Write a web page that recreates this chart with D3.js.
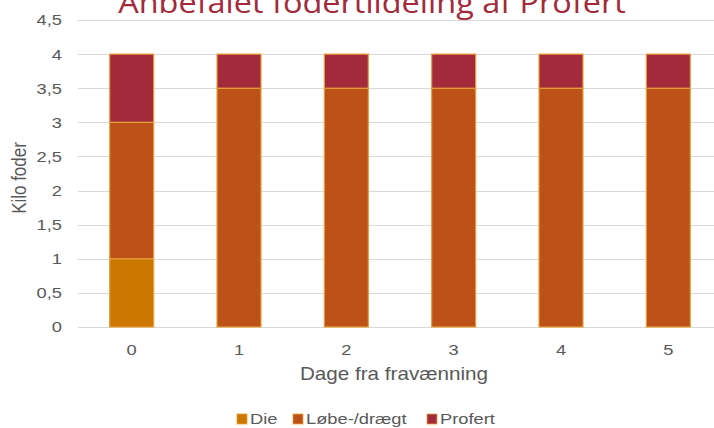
<!DOCTYPE html>
<html lang="da">
<head>
<meta charset="UTF-8">
<title>Anbefalet fodertildeling af Profert</title>
<style>
  body { margin: 0; background: #fff; }
  svg { display: block; }
</style>
</head>
<body>
<script src="https://cdn.jsdelivr.net/npm/d3@7"></script>
<script>
    // data
    const days = ["0", "1", "2", "3", "4", "5"];
    const die = [1, 0, 0, 0, 0, 0];
    const loebe = [2, 3.5, 3.5, 3.5, 3.5, 3.5];
    const profert = [1, 0.5, 0.5, 0.5, 0.5, 0.5];
    const seriesNames = ["Die", "Løbe-/drægt", "Profert"];
    const yTicks = [0, 0.5, 1, 1.5, 2, 2.5, 3, 3.5, 4, 4.5];

    const colors = ["#cc7700", "#bd5218", "#a32a3a"];
    const width = 714, height = 428;
    const margin = {top: 20, right: -8, bottom: 101, left: 78};
    // the original picture is a bit wider than tall, so text is stretched sideways
    const sx = 1.18;

    const rows = days.map((d, i) => ({day: d, Die: die[i], "Løbe-/drægt": loebe[i], Profert: profert[i]}));
    const stacked = d3.stack().keys(seriesNames)(rows);

    const x = d3.scaleBand()
        .domain(days)
        .range([margin.left, width - margin.right])
        .paddingInner(0.59)
        .paddingOuter(0.295);

    const y = d3.scaleLinear()
        .domain([0, 4.5])
        .range([height - margin.bottom, margin.top]);

    const svg = d3.select("body").append("svg")
        .attr("width", width)
        .attr("height", height)
        .style("font-family", "'Liberation Sans', Arial, sans-serif");

    // stretch a text horizontally around its own x position
    function stretch() {
        const x0 = +this.getAttribute("x") || 0;
        return `translate(${x0 * (1 - sx)},0) scale(${sx},1)`;
    }

    // gridlines
    svg.append("g")
        .selectAll("line")
        .data(yTicks)
        .join("line")
        .attr("x1", margin.left)
        .attr("x2", width)
        .attr("y1", d => Math.round(y(d)) + 0.5)
        .attr("y2", d => Math.round(y(d)) + 0.5)
        .attr("stroke", "#d9d9d9")
        .attr("stroke-width", 1.2);

    const yAxis = g => g
        .attr("transform", `translate(${margin.left - 13},0)`)
        .call(d3.axisLeft(y).tickValues(yTicks).tickSize(0).tickFormat(d => String(d).replace(".", ",")))
        .call(g => g.select(".domain").remove())
        .call(g => g.selectAll("text")
            .attr("fill", "#595959")
            .style("font-size", "15.5px")
            .attr("transform", stretch));

    const xAxis = g => g
        .attr("transform", `translate(0,${height - margin.bottom + 14})`)
        .call(d3.axisBottom(x).tickSize(0))
        .call(g => g.select(".domain").remove())
        .call(g => g.selectAll("text")
            .attr("fill", "#595959")
            .style("font-size", "15.5px")
            .attr("transform", stretch));

    svg.append("g").call(yAxis);
    svg.append("g").call(xAxis);

    // bars
    svg.append("g")
        .selectAll("g")
        .data(stacked)
        .join("g")
        .attr("fill", (d, i) => colors[i])
        .selectAll("rect")
        .data(d => d.filter(s => s[1] - s[0] > 0))
        .join("rect")
        .attr("x", d => x(d.data.day))
        .attr("y", d => y(d[1]))
        .attr("width", x.bandwidth())
        .attr("height", d => y(d[0]) - y(d[1]))
        .attr("stroke", "#e8a03c")
        .attr("stroke-width", 1.2);

    // axis titles
    svg.append("text")
        .attr("transform", "translate(26,178) rotate(-90) scale(1,1.15)")
        .attr("text-anchor", "middle")
        .attr("fill", "#595959")
        .style("font-size", "17px")
        .text("Kilo foder");

    svg.append("text")
        .attr("transform", `translate(394,380) scale(${sx},1)`)
        .attr("text-anchor", "middle")
        .attr("fill", "#595959")
        .style("font-size", "17.5px")
        .text("Dage fra fravænning");

    // title (cut off at the top like the original)
    svg.append("text")
        .attr("transform", "translate(372,13) scale(1.12,1)")
        .attr("text-anchor", "middle")
        .attr("fill", "#a32a3a")
        .style("font-family", "'Open Sans', sans-serif")
        .style("font-size", "29px")
        .text("Anbefalet fodertildeling af Profert");

    // legend
    const legendX = [237, 293, 427];
    const legend = svg.append("g")
        .selectAll("g")
        .data(seriesNames)
        .join("g")
        .attr("transform", (d, i) => `translate(${legendX[i]},414)`);
    legend.append("rect")
        .attr("width", 10)
        .attr("height", 10)
        .attr("fill", (d, i) => colors[i])
        .attr("stroke", "#e8a03c")
        .attr("stroke-width", 0.8);
    legend.append("text")
        .attr("x", 13)
        .attr("y", 10)
        .attr("fill", "#595959")
        .style("font-size", "15.5px")
        .attr("transform", stretch)
        .text(d => d);
</script>
</body>
</html>
